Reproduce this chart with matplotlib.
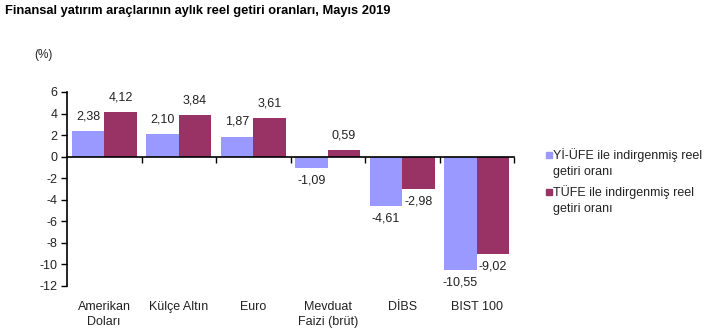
import matplotlib
matplotlib.use("Agg")
import matplotlib.pyplot as plt
import matplotlib.transforms as mtransforms
from matplotlib.patches import Rectangle
import numpy as np

plt.rcParams['font.family'] = ['Liberation Sans', 'DejaVu Sans']
plt.rcParams['axes.unicode_minus'] = False

categories = ["Amerikan\nDoları", "Külçe Altın", "Euro", "Mevduat\nFaizi (brüt)", "DİBS", "BIST 100"]
yi_ufe = [2.38, 2.10, 1.87, -1.09, -4.61, -10.55]
tufe = [4.12, 3.84, 3.61, 0.59, -2.98, -9.02]
series_names = ["Yİ-ÜFE ile indirgenmiş reel\ngetiri oranı", "TÜFE ile indirgenmiş reel\ngetiri oranı"]
colors = ["#9999FF", "#993366"]
yticks = [6, 4, 2, 0, -2, -4, -6, -8, -10, -12]

fig = plt.figure(figsize=(7.22, 3.34), dpi=100)
ax = fig.add_axes([67/722, 1-286/334, (514-67)/722, (286-92)/334])

x = np.arange(len(categories))
w = 0.437
b1 = ax.bar(x - w/2, yi_ufe, w, color=colors[0])
b2 = ax.bar(x + w/2, tufe, w, color=colors[1])

def fmt(v):
    return f"{v:.2f}".replace(".", ",")

for bars, vals in ((b1, yi_ufe), (b2, tufe)):
    for rect, v in zip(bars, vals):
        cx = rect.get_x() + rect.get_width()/2
        off = 10.5 if v >= 0 else -9
        ax.annotate(fmt(v), (cx, v), xytext=(0, off), textcoords="offset points",
                    ha="center", va="center", fontsize=9, color="#222222")

ax.set_xlim(-0.5, len(categories) - 0.5)
ax.set_ylim(-12, 6)
ax.set_yticks(yticks)
ax.set_yticklabels([str(t) for t in yticks], fontsize=9, color="#222222")
ax.tick_params(axis='y', direction='out', length=4, width=1, pad=3)

ax.spines['top'].set_visible(False)
ax.spines['right'].set_visible(False)
ax.spines['bottom'].set_position(('data', 0))
ax.spines['left'].set_linewidth(1.2)
ax.spines['bottom'].set_linewidth(1.2)
ax.set_xticks(np.arange(len(categories)) + 0.5)
ax.set_xticklabels([])
ax.tick_params(axis='x', direction='out', length=4, width=1)

trans = mtransforms.blended_transform_factory(ax.transData, fig.transFigure)
for xi, c in zip(x, categories):
    ax.text(xi, 1 - 301/334, c, transform=trans, ha="center", va="top",
            fontsize=9, color="#222222", linespacing=1.3)

fig.text(5/722, 1 - 11/334, "Finansal yatırım araçlarının aylık reel getiri oranları, Mayıs 2019",
         fontsize=9.3, fontweight="bold", ha="left", va="center")
fig.text(34/722, 1 - 55/334, "(%)", fontsize=8.5, ha="left", va="center", color="#222222")

leg_y = [155, 192]
for yy, name, col in zip(leg_y, series_names, colors):
    fig.add_artist(Rectangle((546/722, 1 - (yy + 3)/334), 6/722, 6/334,
                             transform=fig.transFigure, color=col))
    fig.text(553/722, 1 - (yy - 7)/334, name, fontsize=9, ha="left", va="top",
             color="#222222", linespacing=1.4)

fig.savefig("out.png", dpi=100)
